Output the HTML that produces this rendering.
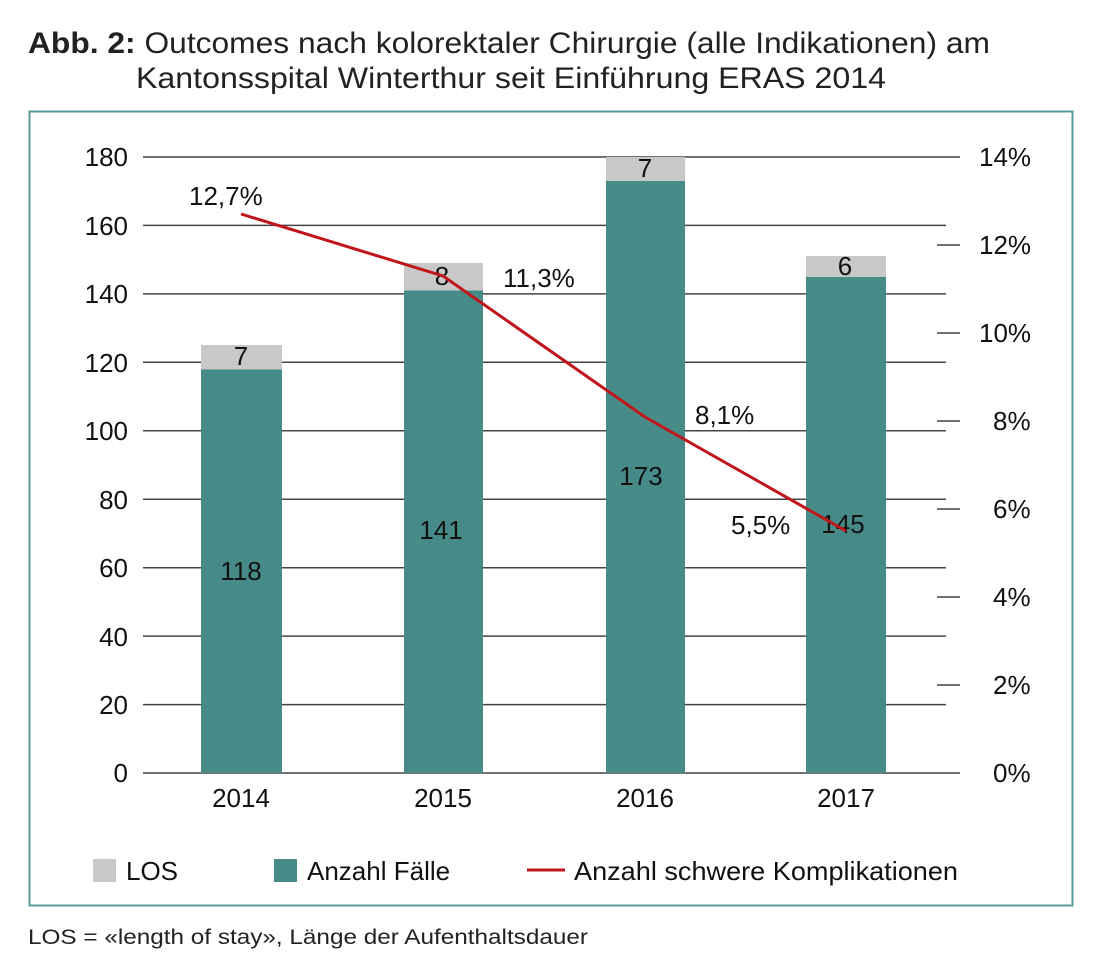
<!DOCTYPE html>
<html><head><meta charset="utf-8"><style>
html,body{margin:0;padding:0;background:#fff;}
svg{display:block;font-family:"Liberation Sans",sans-serif;}
</style></head><body>
<svg width="1100" height="969" viewBox="0 0 1100 969" xmlns="http://www.w3.org/2000/svg">
<rect width="1100" height="969" fill="#fff"/>
<text x="28" y="53" font-size="30" fill="#222" textLength="962" lengthAdjust="spacingAndGlyphs"><tspan font-weight="bold">Abb. 2:</tspan> Outcomes nach kolorektaler Chirurgie (alle Indikationen) am</text>
<text x="136" y="88" font-size="30" fill="#222" textLength="750" lengthAdjust="spacingAndGlyphs">Kantonsspital Winterthur seit Einführung ERAS 2014</text>
<rect x="29.5" y="111.5" width="1043" height="794" fill="none" stroke="#5a9a9a" stroke-width="2"/>
<g stroke="#444" stroke-width="1.5">
<line x1="143" y1="157" x2="960" y2="157"/>
<line x1="143" y1="225.4" x2="946" y2="225.4"/>
<line x1="143" y1="293.9" x2="946" y2="293.9"/>
<line x1="143" y1="362.3" x2="946" y2="362.3"/>
<line x1="143" y1="430.8" x2="946" y2="430.8"/>
<line x1="143" y1="499.2" x2="946" y2="499.2"/>
<line x1="143" y1="567.7" x2="946" y2="567.7"/>
<line x1="143" y1="636.1" x2="946" y2="636.1"/>
<line x1="143" y1="704.6" x2="946" y2="704.6"/>
<line x1="143" y1="773" x2="960" y2="773"/>
<line x1="937" y1="245" x2="960" y2="245"/>
<line x1="937" y1="333" x2="960" y2="333"/>
<line x1="937" y1="421" x2="960" y2="421"/>
<line x1="937" y1="509" x2="960" y2="509"/>
<line x1="937" y1="597" x2="960" y2="597"/>
<line x1="937" y1="685" x2="960" y2="685"/>
</g>
<g font-size="26" fill="#111" text-anchor="end">
<text x="128" y="166">180</text><text x="128" y="235">160</text><text x="128" y="303">140</text>
<text x="128" y="372">120</text><text x="128" y="440">100</text><text x="128" y="509">80</text>
<text x="128" y="577">60</text><text x="128" y="646">40</text><text x="128" y="714">20</text>
<text x="128" y="782">0</text>
</g>
<g font-size="26" fill="#111">
<text x="979" y="166">14%</text><text x="979" y="254">12%</text><text x="979" y="342">10%</text>
<text x="993" y="430">8%</text><text x="993" y="518">6%</text><text x="993" y="606">4%</text>
<text x="993" y="694">2%</text><text x="993" y="782">0%</text>
</g>
<g fill="#c8c8c8">
<rect x="201" y="345" width="81" height="25"/>
<rect x="404" y="263" width="79" height="28"/>
<rect x="606" y="157" width="79" height="24"/>
<rect x="806" y="256" width="80" height="21"/>
</g>
<g fill="#468b88">
<rect x="201" y="369.5" width="81" height="403.5"/>
<rect x="404" y="290.5" width="79" height="482.5"/>
<rect x="606" y="181" width="79" height="592"/>
<rect x="806" y="277" width="80" height="496"/>
</g>
<g font-size="26" fill="#111" text-anchor="middle">
<text x="241" y="365">7</text><text x="442" y="285">8</text><text x="645" y="177">7</text><text x="845" y="275">6</text>
<text x="241" y="580">118</text><text x="441" y="539">141</text><text x="641" y="485">173</text><text x="843" y="533">145</text>
<text x="241" y="807">2014</text><text x="443" y="807">2015</text><text x="645" y="807">2016</text><text x="846" y="807">2017</text>
</g>
<polyline points="241,214 443,276 645,417 846,531" fill="none" stroke="#c0161b" stroke-width="3"/>
<g font-size="26" fill="#111">
<text x="189" y="205">12,7%</text><text x="503" y="287">11,3%</text><text x="695" y="424">8,1%</text><text x="731" y="534">5,5%</text>
</g>
<rect x="93" y="859" width="23" height="23" fill="#c8c8c8"/>
<text x="126" y="880" font-size="26" fill="#111">LOS</text>
<rect x="274" y="859" width="23" height="23" fill="#468b88"/>
<text x="307" y="880" font-size="26" fill="#111">Anzahl Fälle</text>
<line x1="527" y1="870" x2="565" y2="870" stroke="#c0161b" stroke-width="3"/>
<text x="574" y="880" font-size="26" fill="#111" textLength="384" lengthAdjust="spacingAndGlyphs">Anzahl schwere Komplikationen</text>
<text x="28" y="944" font-size="21" fill="#222" textLength="560" lengthAdjust="spacingAndGlyphs">LOS = «length of stay», Länge der Aufenthaltsdauer</text>
</svg>
</body></html>
